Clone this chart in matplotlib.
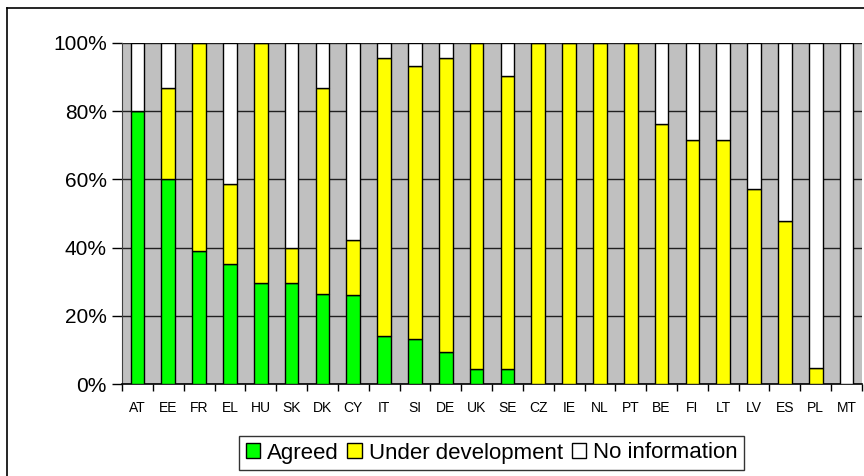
import matplotlib
matplotlib.use("Agg")
import matplotlib.pyplot as plt
import numpy as np
from matplotlib.lines import Line2D
from matplotlib.patches import Patch

plt.rcParams["font.family"] = ["Liberation Sans", "DejaVu Sans"]

countries = ["AT", "EE", "FR", "EL", "HU", "SK", "DK", "CY", "IT", "SI", "DE", "UK", "SE",
             "CZ", "IE", "NL", "PT", "BE", "FI", "LT", "LV", "ES", "PL", "MT"]
agreed = [80.0, 60.0, 39.1, 35.3, 29.7, 29.7, 26.5, 26.1, 14.2, 13.2, 9.5, 4.4, 4.4,
          0, 0, 0, 0, 0, 0, 0, 0, 0, 0, 0]
under_dev = [0, 26.7, 60.9, 23.4, 70.3, 10.1, 60.2, 16.0, 81.3, 80.1, 86.0, 95.6, 86.0,
             100, 100, 100, 100, 76.2, 71.6, 71.6, 57.3, 47.7, 4.8, 0]
no_info = [20.0, 13.3, 0, 41.3, 0, 60.2, 13.3, 57.9, 4.5, 6.7, 4.5, 0, 9.6,
           0, 0, 0, 0, 23.8, 28.4, 28.4, 42.7, 52.3, 95.2, 100]
series_names = ["Agreed", "Under development", "No information"]
yticks = [0, 20, 40, 60, 80, 100]

W, H = 864, 476
fig = plt.figure(figsize=(W / 100, H / 100), dpi=100)
ax = fig.add_axes([122 / W, 1 - 384 / H, (862 - 122) / W, (384 - 43) / H])
ax.set_facecolor("#C0C0C0")

x = np.arange(len(countries))
a = np.array(agreed)
u = np.array(under_dev)
n = np.array(no_info)
bw = 0.44
kw = dict(width=bw, edgecolor="black", linewidth=1.0, zorder=3)
ax.bar(x, a, color="#00FF00", **kw)
ax.bar(x, u, bottom=a, color="#FFFF00", **kw)
ax.bar(x, n, bottom=a + u, color="white", **kw)

ax.set_xlim(-0.5, len(countries) - 0.5)
ax.set_ylim(0, 100)
ax.set_yticks(yticks)
ax.set_yticklabels([f"{v}%" for v in yticks], fontsize=15)
ax.yaxis.grid(True, color="#202020", linewidth=1.0, zorder=1)
ax.set_axisbelow(True)

ax.set_xticks(x)
ax.set_xticklabels(countries, fontsize=10)
ax.set_xticks(np.arange(len(countries) + 1) - 0.5, minor=True)
ax.tick_params(axis="x", which="major", length=0, pad=12)
ax.tick_params(axis="x", which="minor", length=5, width=1, direction="out")
ax.tick_params(axis="y", length=7, width=1, direction="out", pad=4)

for s in ["top", "right"]:
    ax.spines[s].set_visible(False)
ax.spines["left"].set_color("#404040")
ax.spines["bottom"].set_color("black")
ax.spines["bottom"].set_linewidth(1.2)

handles = [Patch(facecolor=c, edgecolor="black", linewidth=1)
           for c in ["#00FF00", "#FFFF00", "white"]]
leg = fig.legend(handles, series_names, loc="center", ncol=3,
                 bbox_to_anchor=(491.5 / W, 1 - 453 / H), fontsize=16,
                 frameon=True, fancybox=False, handlelength=0.65, handleheight=0.65,
                 handletextpad=0.3, columnspacing=0.4, borderpad=0.3, borderaxespad=0)
leg.get_frame().set_edgecolor("black")
leg.get_frame().set_linewidth(1.0)

# outer chart border (cropped on right and bottom)
fig.add_artist(Line2D([7 / W, 7 / W], [0, 1 - 7.5 / H], transform=fig.transFigure,
                      color="black", linewidth=1.2))
fig.add_artist(Line2D([7 / W, 1], [1 - 7.5 / H, 1 - 7.5 / H], transform=fig.transFigure,
                      color="black", linewidth=1.2))

fig.savefig("out.png", dpi=100)
